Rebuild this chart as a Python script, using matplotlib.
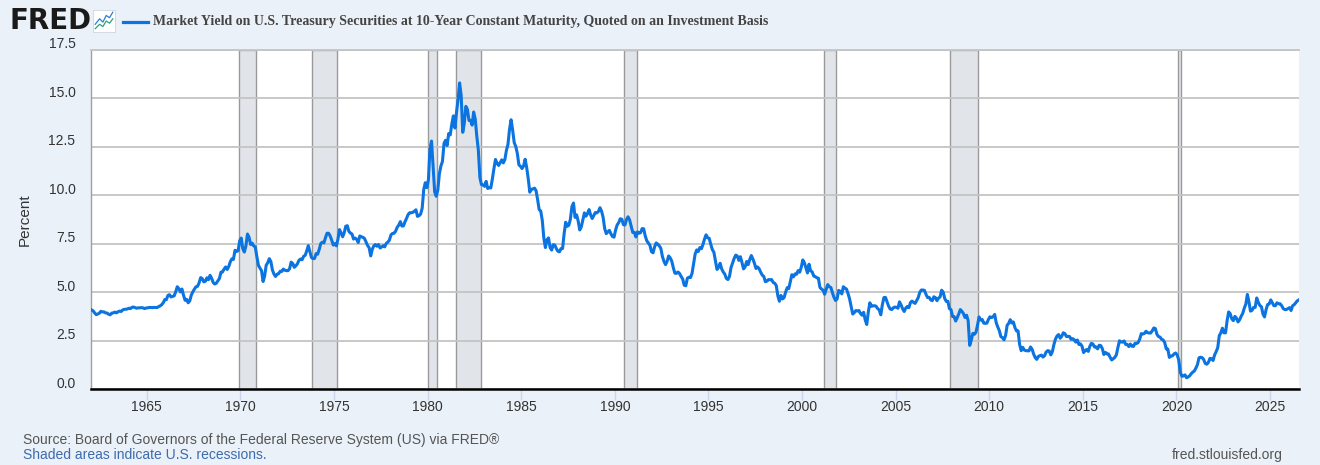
import numpy as np
import matplotlib
matplotlib.use("Agg")
import matplotlib.pyplot as plt
import matplotlib.transforms as mtransforms
from matplotlib.lines import Line2D

plt.rcParams['font.family'] = ['Liberation Sans', 'DejaVu Sans']

# monthly 10-year yield, percent, starting Jan 1962
FIRST_YEAR = 1962
yields_1960s = [
    4.08, 4.04, 3.93, 3.84, 3.87, 3.91, 4.01, 3.98, 3.98, 3.93, 3.92, 3.86,
    3.83, 3.92, 3.93, 3.97, 3.93, 3.99, 4.02, 4.00, 4.08, 4.11, 4.12, 4.13,
    4.17, 4.15, 4.22, 4.23, 4.20, 4.17, 4.19, 4.19, 4.20, 4.19, 4.15, 4.18,
    4.19, 4.21, 4.21, 4.20, 4.21, 4.21, 4.20, 4.25, 4.29, 4.35, 4.45, 4.62,
    4.61, 4.83, 4.87, 4.75, 4.78, 4.81, 5.02, 5.28, 5.18, 5.01, 5.16, 4.84,
    4.58, 4.63, 4.45, 4.55, 4.85, 5.02, 5.16, 5.28, 5.30, 5.48, 5.75, 5.70,
    5.53, 5.56, 5.74, 5.64, 5.87, 5.72, 5.50, 5.42, 5.46, 5.58, 5.70, 6.03,
    6.04, 6.19, 6.30, 6.17, 6.32, 6.57, 6.72, 6.69, 7.16, 7.10, 7.14, 7.65,
]
yields_1970s = [
    7.79, 7.24, 7.07, 7.39, 8.00, 7.84, 7.46, 7.53, 7.39, 7.33, 6.84, 6.39,
    6.24, 6.11, 5.55, 5.83, 6.39, 6.52, 6.73, 6.58, 6.14, 5.93, 5.81, 5.93,
    5.95, 6.08, 6.07, 6.19, 6.13, 6.11, 6.11, 6.21, 6.55, 6.48, 6.28, 6.36,
    6.46, 6.64, 6.71, 6.67, 6.85, 6.90, 7.13, 7.40, 7.09, 6.79, 6.73, 6.74,
    6.99, 6.96, 7.21, 7.51, 7.58, 7.54, 7.81, 8.04, 8.04, 7.90, 7.68, 7.43,
    7.50, 7.39, 7.73, 8.23, 8.06, 7.86, 8.06, 8.40, 8.43, 8.14, 8.05, 8.00,
    7.74, 7.79, 7.73, 7.56, 7.90, 7.86, 7.83, 7.77, 7.59, 7.41, 7.29, 6.87,
    7.21, 7.39, 7.46, 7.37, 7.46, 7.28, 7.33, 7.40, 7.34, 7.52, 7.58, 7.69,
    7.96, 8.03, 8.04, 8.15, 8.35, 8.46, 8.64, 8.41, 8.42, 8.64, 8.81, 9.01,
    9.10, 9.10, 9.12, 9.18, 9.25, 8.91, 8.95, 9.03, 9.33, 10.30, 10.65, 10.39,
]
yields_1980s = [
    10.80, 12.41, 12.80, 11.47, 10.18, 9.95, 10.25, 11.10, 11.51, 11.75, 12.68, 12.84,
    12.57, 13.19, 13.12, 13.68, 14.10, 13.47, 14.28, 14.94, 15.80, 15.15, 13.25, 13.72,
    14.59, 14.43, 13.86, 13.87, 13.62, 14.30, 13.95, 13.06, 12.34, 10.91, 10.55, 10.54,
    10.46, 10.72, 10.35, 10.40, 10.38, 10.85, 11.38, 11.85, 11.65, 11.54, 11.69, 11.83,
    11.67, 11.84, 12.32, 12.63, 13.41, 13.90, 13.36, 12.72, 12.52, 12.16, 11.57, 11.50,
    11.38, 11.51, 11.86, 11.43, 10.85, 10.16, 10.31, 10.33, 10.37, 10.24, 9.78, 9.26,
    9.19, 8.70, 7.78, 7.30, 7.71, 7.80, 7.30, 7.17, 7.45, 7.43, 7.25, 7.11,
    7.08, 7.25, 7.25, 8.02, 8.61, 8.40, 8.45, 8.76, 9.42, 9.60, 8.86, 8.99,
    8.67, 8.21, 8.37, 8.72, 9.09, 8.92, 9.06, 9.26, 8.98, 8.80, 8.96, 9.11,
    9.09, 9.17, 9.36, 9.18, 8.86, 8.28, 8.02, 8.11, 8.19, 8.01, 7.87, 7.84,
]
yields_1990s = [
    8.21, 8.47, 8.59, 8.79, 8.76, 8.48, 8.47, 8.75, 8.89, 8.72, 8.39, 8.08,
    8.09, 7.85, 8.11, 8.04, 8.07, 8.28, 8.27, 7.90, 7.65, 7.53, 7.42, 7.09,
    7.03, 7.34, 7.54, 7.48, 7.39, 7.26, 6.84, 6.59, 6.42, 6.59, 6.87, 6.77,
    6.60, 6.26, 5.98, 5.97, 6.04, 5.96, 5.81, 5.68, 5.36, 5.33, 5.72, 5.77,
    5.75, 5.97, 6.48, 6.97, 7.18, 7.10, 7.30, 7.24, 7.46, 7.74, 7.96, 7.81,
    7.78, 7.47, 7.20, 7.06, 6.63, 6.17, 6.28, 6.49, 6.20, 6.04, 5.93, 5.71,
    5.65, 5.81, 6.27, 6.51, 6.74, 6.91, 6.87, 6.64, 6.83, 6.53, 6.20, 6.30,
    6.58, 6.42, 6.69, 6.89, 6.71, 6.49, 6.22, 6.30, 6.21, 6.03, 5.88, 5.81,
    5.54, 5.57, 5.65, 5.64, 5.65, 5.50, 5.46, 5.34, 4.81, 4.53, 4.83, 4.65,
    4.72, 5.00, 5.23, 5.18, 5.54, 5.90, 5.79, 5.94, 5.92, 6.11, 6.03, 6.28,
]
yields_2000s = [
    6.66, 6.52, 6.26, 5.99, 6.44, 6.10, 6.05, 5.83, 5.80, 5.74, 5.72, 5.24,
    5.16, 5.10, 4.89, 5.14, 5.39, 5.28, 5.24, 4.97, 4.73, 4.57, 4.65, 5.09,
    5.04, 4.91, 5.28, 5.21, 5.16, 4.93, 4.65, 4.26, 3.87, 3.94, 4.05, 4.03,
    4.05, 3.90, 3.81, 3.96, 3.57, 3.33, 3.98, 4.45, 4.27, 4.29, 4.30, 4.27,
    4.15, 4.08, 3.83, 4.35, 4.72, 4.73, 4.50, 4.28, 4.13, 4.10, 4.19, 4.23,
    4.22, 4.17, 4.50, 4.34, 4.14, 4.00, 4.18, 4.26, 4.20, 4.46, 4.54, 4.47,
    4.42, 4.57, 4.72, 4.99, 5.11, 5.11, 5.09, 4.88, 4.72, 4.73, 4.60, 4.56,
    4.76, 4.72, 4.56, 4.69, 4.75, 5.10, 5.00, 4.67, 4.52, 4.53, 4.15, 4.10,
    3.74, 3.74, 3.51, 3.68, 3.88, 4.10, 4.01, 3.89, 3.69, 3.81, 3.53, 2.25,
    2.52, 2.87, 2.82, 2.93, 3.29, 3.72, 3.56, 3.59, 3.40, 3.39, 3.40, 3.59,
]
yields_2010s = [
    3.73, 3.69, 3.73, 3.85, 3.42, 3.20, 3.01, 2.70, 2.65, 2.54, 2.76, 3.29,
    3.39, 3.58, 3.41, 3.46, 3.17, 3.00, 3.00, 2.30, 1.98, 2.15, 2.01, 1.98,
    1.97, 1.97, 2.17, 2.05, 1.80, 1.62, 1.53, 1.68, 1.72, 1.75, 1.65, 1.72,
    1.91, 1.98, 1.96, 1.76, 1.93, 2.30, 2.58, 2.74, 2.81, 2.62, 2.72, 2.90,
    2.86, 2.71, 2.72, 2.71, 2.56, 2.60, 2.54, 2.42, 2.53, 2.30, 2.33, 2.21,
    1.88, 1.98, 2.04, 1.94, 2.20, 2.36, 2.32, 2.17, 2.17, 2.07, 2.26, 2.24,
    2.09, 1.78, 1.89, 1.81, 1.81, 1.64, 1.50, 1.56, 1.63, 1.76, 2.14, 2.49,
    2.43, 2.42, 2.48, 2.30, 2.30, 2.19, 2.32, 2.21, 2.20, 2.36, 2.35, 2.40,
    2.58, 2.86, 2.84, 2.87, 2.98, 2.91, 2.89, 2.89, 3.00, 3.15, 3.12, 2.83,
    2.71, 2.68, 2.57, 2.53, 2.40, 2.07, 2.06, 1.63, 1.70, 1.71, 1.81, 1.86,
]
yields_2020s = [
    1.76, 1.50, 0.87, 0.66, 0.67, 0.73, 0.58, 0.62, 0.68, 0.79, 0.87, 0.93,
    1.08, 1.26, 1.61, 1.64, 1.62, 1.52, 1.32, 1.28, 1.37, 1.58, 1.56, 1.47,
    1.76, 1.93, 2.13, 2.75, 2.90, 3.14, 2.90, 2.90, 3.52, 3.98, 3.89, 3.62,
    3.53, 3.75, 3.66, 3.46, 3.57, 3.75, 3.90, 4.17, 4.38, 4.88, 4.50, 4.02,
    4.06, 4.21, 4.21, 4.70, 4.48, 4.31, 4.25, 3.87, 3.72, 4.10, 4.36, 4.39,
    4.60, 4.45, 4.30, 4.30, 4.45, 4.40, 4.40, 4.30, 4.15, 4.10, 4.10, 4.15,
    4.20, 4.05, 4.30, 4.35, 4.45, 4.55, 4.60,
]

recessions = [
    (1969 + 11/12, 1970 + 10/12), (1973 + 10/12, 1975 + 2/12),
    (1980 + 0/12, 1980 + 6/12), (1981 + 6/12, 1982 + 10/12),
    (1990 + 6/12, 1991 + 2/12), (2001 + 2/12, 2001 + 10/12),
    (2007 + 11/12, 2009 + 5/12), (2020 + 1/12, 2020 + 3/12),
]
x_ticks = list(range(1965, 2030, 5))
y_ticks = [0.0, 2.5, 5.0, 7.5, 10.0, 12.5, 15.0, 17.5]

TITLE = ("Market Yield on U.S. Treasury Securities at 10-Year Constant "
         "Maturity, Quoted on an Investment Basis")

W, H = 1320, 465
BG = '#eaf1f9'
BLUE = '#0b74e0'
TXT = '#333333'

yields = np.array(yields_1960s + yields_1970s + yields_1980s + yields_1990s
                  + yields_2000s + yields_2010s + yields_2020s)
t = FIRST_YEAR + np.arange(len(yields)) / 12 + 1 / 24

fig = plt.figure(figsize=(W / 100, H / 100), dpi=100, facecolor=BG)
ax = fig.add_axes([90.7 / W, 1 - 389 / H, (1299 - 90.7) / W, (389 - 50) / H])
ax.set_facecolor('white')

for a, b in recessions:
    ax.axvspan(a, b, facecolor='#e1e5ea', edgecolor='#9a9a9a', lw=1.0, zorder=0.5)

ax.plot(t, yields, color=BLUE, lw=2.2, zorder=3, solid_joinstyle='round')

ax.set_xlim(1962.0, 2026.55)
ax.set_ylim(0, 17.5)
ax.set_xticks(x_ticks)
ax.set_xticklabels([str(x) for x in x_ticks])
ax.set_yticks(y_ticks)
ax.set_yticklabels([f'{v:.1f}' for v in y_ticks])
ax.grid(axis='y', color='#c4c4c4', lw=1.3, zorder=1)
ax.set_axisbelow(True)

ax.tick_params(axis='y', length=0, pad=11, labelsize=10, labelcolor=TXT)
ax.tick_params(axis='x', length=8, width=1, color='#ccd6eb', pad=0,
               labelsize=10, labelcolor=TXT)
offset = mtransforms.ScaledTranslation(0, 0.07, fig.dpi_scale_trans)
for lab in ax.get_yticklabels():
    lab.set_transform(lab.get_transform() + offset)

ax.spines['right'].set_visible(False)
ax.spines['top'].set_color('#c4c4c4')
ax.spines['top'].set_linewidth(1.3)
ax.spines['left'].set_color('#a0a0a0')
ax.spines['left'].set_linewidth(1.0)
ax.spines['bottom'].set_color('black')
ax.spines['bottom'].set_linewidth(1.8)
ax.spines['bottom'].set_zorder(4)

fig.text(25 / W, 1 - 220 / H, 'Percent', rotation=90, ha='center', va='center',
         fontsize=11, color=TXT)

# header: logo, icon, legend
fig.text(9 / W, 1 - 21 / H, 'FRED', ha='left', va='center', fontsize=20,
         fontweight='heavy', color='#1a1a1a', family='DejaVu Sans')
icon = fig.add_axes([93 / W, 1 - 32 / H, 22 / W, 22 / H])
icon.set_facecolor('white')
icon.plot([0.1, 0.3, 0.45, 0.6, 0.75, 0.9], [0.35, 0.6, 0.45, 0.75, 0.65, 0.9],
          color='#2d7fd3', lw=0.9)
icon.plot([0.1, 0.3, 0.45, 0.6, 0.75, 0.9], [0.15, 0.35, 0.25, 0.5, 0.4, 0.6],
          color='#2aa37a', lw=0.9)
icon.set_xlim(0, 1)
icon.set_ylim(0, 1)
icon.set_xticks([])
icon.set_yticks([])
for s in icon.spines.values():
    s.set_color('#d0d6de')
    s.set_linewidth(0.6)

fig.add_artist(Line2D([123 / W, 148 / W], [1 - 22 / H, 1 - 22 / H],
                      color=BLUE, lw=2.3, transform=fig.transFigure))
fig.text(153 / W, 1 - 21 / H, TITLE, ha='left', va='center', fontsize=10,
         fontweight='bold', color='#444444', family='Liberation Serif')

# footer
fig.text(23 / W, 1 - 440 / H,
         'Source: Board of Governors of the Federal Reserve System (US) via FRED\u00ae',
         ha='left', va='center', fontsize=10, color='#555555')
fig.text(23 / W, 1 - 455 / H, 'Shaded areas indicate U.S. recessions.',
         ha='left', va='center', fontsize=10, color='#3d6bab')
fig.text(1283 / W, 1 - 455 / H, 'fred.stlouisfed.org', ha='right', va='center',
         fontsize=10, color='#555555')

fig.savefig('out.png', dpi=100, facecolor=BG)
